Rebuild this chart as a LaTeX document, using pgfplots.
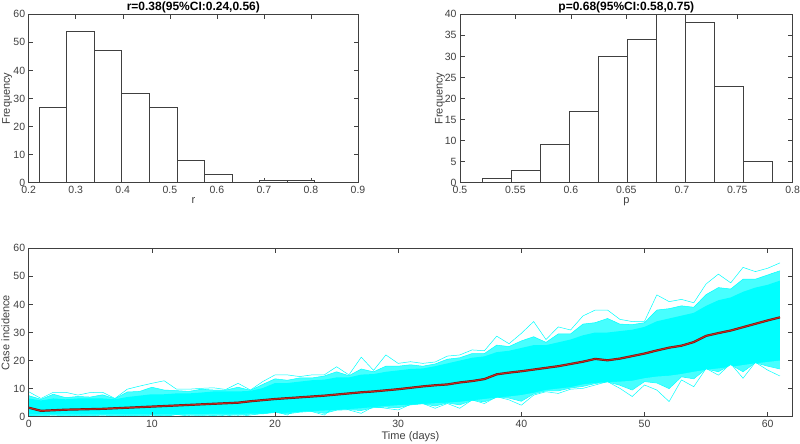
\documentclass[border=0pt]{standalone}
\usepackage{fontspec}
\setmainfont{Liberation Sans}
\usepackage{pgfplots}
\usepackage{pgfplotstable}
\pgfplotsset{compat=1.18}

\definecolor{axgrey}{HTML}{404040}
\definecolor{simcyan}{rgb}{0,1,1}
\definecolor{meanred}{HTML}{C8281E}
\definecolor{meanedge}{HTML}{6E1A12}

% simulated incidence: mean, outer spikes (U/L), second spikes (U2/L2), dense band (IU/IL)
\pgfplotstableread{
day mean U L U2 L2 IU IL
0 3.2 8.9 0.5 7.5 0.5 6.5 0.8
1 2.1 6.5 0.0 6.2 0.3 5.8 0.8
2 2.3 8.7 0.3 8.0 0.6 6.5 0.8
3 2.5 8.7 0.0 6.8 0.3 6.2 0.8
4 2.6 7.7 0.5 7.2 0.6 6.5 0.8
5 2.7 8.6 0.0 7.0 0.3 6.5 0.8
6 2.8 8.7 0.3 7.8 0.6 6.5 0.8
7 3.0 6.5 0.0 6.4 0.3 6.2 0.8
8 3.2 9.8 0.5 8.8 0.6 7.0 0.8
9 3.4 10.9 0.0 9.0 0.3 7.5 0.8
10 3.6 11.9 0.6 10.5 0.7 8.0 0.8
11 3.8 12.8 0.0 9.5 0.3 8.0 0.8
12 4.0 9.8 0.8 9.3 0.8 8.3 0.8
13 4.2 9.8 0.2 9.0 0.5 8.3 0.9
14 4.4 10.1 0.5 9.8 0.7 8.6 0.9
15 4.6 10.3 0.0 9.5 0.4 9.0 1.0
16 4.8 9.7 0.6 9.5 0.8 9.0 1.0
17 5.0 11.9 0.0 10.5 0.5 9.0 1.0
18 5.5 9.5 0.6 9.4 0.9 9.2 1.1
19 5.9 12.5 1.2 11.5 1.0 10.2 1.1
20 6.3 14.9 1.8 13.5 1.5 12.0 1.2
21 6.6 14.9 0.6 13.0 1.0 12.0 1.4
22 6.9 14.3 3.6 13.8 1.6 12.5 1.7
23 7.2 14.9 1.8 13.8 1.9 13.0 2.0
24 7.5 14.9 0.6 14.5 1.2 13.2 2.2
25 7.9 17.8 4.2 16.0 2.3 14.0 2.4
26 8.3 14.9 2.4 14.6 2.5 14.0 2.7
27 8.7 21.2 1.2 17.0 2.2 15.0 3.0
28 9.0 16.5 3.6 16.0 3.2 15.2 3.4
29 9.4 22.0 3.0 18.0 3.4 16.0 3.8
30 9.8 19.0 2.4 18.0 3.2 16.5 4.1
31 10.3 19.6 4.4 18.5 4.2 17.0 4.3
32 10.8 19.0 4.7 18.0 4.6 17.2 4.5
33 11.2 19.5 3.0 18.8 3.8 18.0 4.8
34 11.5 21.6 4.7 20.5 4.9 19.0 5.0
35 12.2 22.0 3.0 21.0 4.2 20.0 5.3
36 12.7 23.8 6.0 22.5 5.8 21.0 5.8
37 13.4 23.5 4.7 22.5 5.3 21.5 6.3
38 15.1 28.7 7.1 25.5 6.9 23.0 6.8
39 15.7 26.0 6.0 25.0 6.6 23.5 7.2
40 16.2 29.7 4.1 27.0 5.5 24.5 7.7
41 16.8 33.9 7.7 28.5 8.1 25.5 8.5
42 17.4 27.5 8.9 26.5 9.2 25.5 9.5
43 18.0 32.0 8.3 29.5 9.2 26.5 10.0
44 18.8 30.9 9.8 29.5 10.2 27.5 10.5
45 19.6 35.9 10.1 33.0 10.8 29.0 11.5
46 20.6 38.0 11.3 33.5 11.8 30.0 12.0
47 20.1 38.0 12.5 35.0 12.4 30.0 12.3
48 20.7 34.7 10.1 33.0 11.2 30.5 12.5
49 21.6 33.9 7.2 32.8 9.5 31.0 12.8
50 22.5 34.0 11.3 33.5 12.5 32.0 13.7
51 23.6 43.4 9.5 38.0 12.0 34.0 14.3
52 24.6 41.0 5.4 38.5 10.0 35.0 14.6
53 25.3 41.8 13.1 39.5 14.2 36.0 15.2
54 26.6 40.6 10.7 39.0 13.5 37.0 16.0
55 28.8 47.3 17.2 43.5 17.0 39.5 16.7
56 29.8 50.8 14.8 46.0 16.0 41.5 17.2
57 30.7 47.7 18.9 45.5 18.5 42.5 17.7
58 31.9 53.2 13.7 49.0 16.0 44.5 18.4
59 33.1 51.7 19.4 49.0 19.2 46.0 19.0
60 34.3 52.9 16.6 50.5 18.0 47.0 19.5
61 35.4 54.8 14.5 52.0 17.0 48.5 20.0
}\incidence

\pgfplotsset{
  mlbase/.style={
    scale only axis,
    axis line style={axgrey, line width=0.6pt},
    tick style={axgrey, line width=0.5pt},
    tick align=inside,
    major tick length=4.5pt,
    tick label style={font=\fontsize{10.5}{12}\selectfont, text=axgrey},
    label style={font=\fontsize{11}{13}\selectfont, text=axgrey},
    every axis title shift=0pt,
    title style={font=\fontsize{12}{14}\selectfont\bfseries, anchor=base},
    ylabel style={anchor=base},
    xlabel style={anchor=base},
    /pgf/number format/assume math mode=true,
    scaled ticks=false,
  },
  histbar/.style={draw=axgrey, line width=0.7pt},
}

\begin{document}
\begin{tikzpicture}
\useasboundingbox (0,0) rectangle (800pt,-444pt);

\begin{axis}[mlbase, at={(28.7pt,-182.7pt)}, anchor=south west,
  width=329.3pt, height=168.4pt,
  xmin=0.2, xmax=0.9, ymin=0, ymax=60,
  xtick={0.2,0.3,...,0.9}, ytick={0,10,...,60},
  xticklabels={0.2,0.3,0.4,0.5,0.6,0.7,0.8,0.9},
  title={r=0.38(95\%CI:0.24,0.56)},
  title style={at={(axis description cs:0.5,1.0238)}},
  xlabel={r}, xlabel style={at={(axis description cs:0.5,-0.122)}},
  ylabel={Frequency}, ylabel style={at={(axis description cs:-0.057,0.5)}}]
\addplot[const plot mark left, histbar, fill=white] coordinates {
  (0.2220,0) (0.2220,27) (0.2806,54) (0.3392,47) (0.3978,32) (0.4564,27)
  (0.5150,8) (0.5736,3) (0.6322,0) (0.6908,1) (0.7494,1) (0.8080,1) (0.8080,0)} -- cycle;
\addplot[histbar] coordinates {(0.2806,0) (0.2806,27)};
\addplot[histbar] coordinates {(0.3392,0) (0.3392,47)};
\addplot[histbar] coordinates {(0.3978,0) (0.3978,32)};
\addplot[histbar] coordinates {(0.4564,0) (0.4564,27)};
\addplot[histbar] coordinates {(0.5150,0) (0.5150,8)};
\addplot[histbar] coordinates {(0.5736,0) (0.5736,3)};
\addplot[histbar] coordinates {(0.7494,0) (0.7494,1)};
\end{axis}

\begin{axis}[mlbase, at={(460pt,-182.7pt)}, anchor=south west,
  width=332.7pt, height=168.4pt,
  xmin=0.5, xmax=0.8, ymin=0, ymax=40,
  xtick={0.5,0.55,0.6,0.65,0.7,0.75,0.8}, ytick={0,5,...,40},
  xticklabels={0.5,0.55,0.6,0.65,0.7,0.75,0.8},
  title={p=0.68(95\%CI:0.58,0.75)},
  title style={at={(axis description cs:0.5,1.0238)}},
  xlabel={p}, xlabel style={at={(axis description cs:0.5,-0.122)}},
  ylabel={Frequency}, ylabel style={at={(axis description cs:-0.052,0.5)}}]
\addplot[const plot mark left, histbar, fill=white] coordinates {
  (0.5204,0) (0.5204,1) (0.5466,3) (0.5727,9) (0.5989,17) (0.6250,30)
  (0.6512,34) (0.6773,40) (0.7035,38) (0.7297,23) (0.7559,5) (0.7820,5) (0.7820,0)} -- cycle;
\addplot[histbar] coordinates {(0.5466,0) (0.5466,1)};
\addplot[histbar] coordinates {(0.5727,0) (0.5727,3)};
\addplot[histbar] coordinates {(0.5989,0) (0.5989,9)};
\addplot[histbar] coordinates {(0.6250,0) (0.6250,17)};
\addplot[histbar] coordinates {(0.6512,0) (0.6512,30)};
\addplot[histbar] coordinates {(0.6773,0) (0.6773,34)};
\addplot[histbar] coordinates {(0.7035,0) (0.7035,38)};
\addplot[histbar] coordinates {(0.7297,0) (0.7297,23)};
\addplot[histbar] coordinates {(0.7559,0) (0.7559,5)};
\end{axis}

\begin{axis}[mlbase, at={(28.7pt,-416.7pt)}, anchor=south west,
  width=763.6pt, height=168.4pt,
  xmin=0, xmax=62, ymin=0, ymax=60,
  xtick={0,10,...,60}, ytick={0,10,...,60},
  xlabel={Time (days)}, xlabel style={at={(axis description cs:0.5,-0.135)}},
  ylabel={Case incidence}, ylabel style={at={(axis description cs:-0.0254,0.5)}},
  axis on top]
% lighter halo where the runs thin out, solid core, then the outer runs
\addplot[fill=simcyan!72, draw=none] table[x=day, y=U2] {\incidence} \closedcycle;
\addplot[fill=simcyan, draw=none] table[x=day, y=IU] {\incidence} \closedcycle;
\addplot[fill=simcyan!72, draw=none] table[x=day, y=IL] {\incidence} \closedcycle;
\addplot[fill=white, draw=none] table[x=day, y=L2] {\incidence} \closedcycle;
\addplot[simcyan, line width=0.5pt] table[x=day, y=U] {\incidence};
\addplot[simcyan, line width=0.5pt] table[x=day, y=U2] {\incidence};
\addplot[simcyan, line width=0.5pt] table[x=day, y=L] {\incidence};
\addplot[simcyan, line width=0.5pt] table[x=day, y=L2] {\incidence};
\addplot[meanedge, line width=2.2pt] table[x=day, y=mean] {\incidence};
\addplot[meanred, line width=1pt] table[x=day, y=mean] {\incidence};
\end{axis}
\end{tikzpicture}
\end{document}
